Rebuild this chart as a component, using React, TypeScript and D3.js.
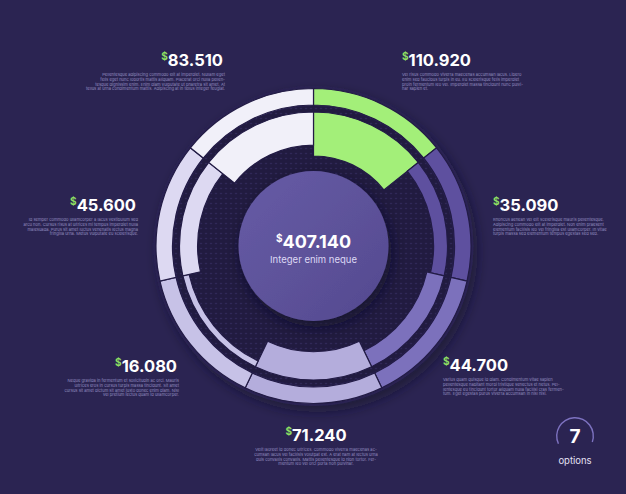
import * as d3 from "d3";

// segments, clockwise from 12 o'clock
const values = [110.92, 35.09, 44.7, 71.24, 16.08, 45.6, 83.51];
const valueLabels = ["110.920", "35.090", "44.700", "71.240", "16.080", "45.600", "83.510"];
const colors = ["#a3ef79", "#5e509f", "#7c71bc", "#b4addc", "#c7c2e7", "#ddd9f2", "#f1f0f9"];
const descriptions = [
  ["Vel risus commodo viverra maecenas accumsan lacus. Libero", "enim sed faucibus turpis in eu. Eu scelerisque felis imperdiet", "proin fermentum leo vel. Imperdiet massa tincidunt nunc pulvi-", "nar sapien et."],
  ["Rhoncus aenean vel elit scelerisque mauris pellentesque.", "Adipiscing commodo elit at imperdiet. Non enim praesent", "elementum facilisis leo vel fringilla est ullamcorper. In vitae", "turpis massa sed elementum tempus egestas sed sed."],
  ["Varius quam quisque id diam. Condimentum vitae sapien", "pellentesque habitant morbi tristique senectus et netus. Pel-", "lentesque eu tincidunt tortor aliquam nulla facilisi cras fermen-", "tum. Eget egestas purus viverra accumsan in nisl nisi."],
  ["Velit laoreet id donec ultrices. Commodo viverra maecenas ac-", "cumsan lacus vel facilisis volutpat est. A erat nam at lectus urna", "duis convallis convallis. Mattis pellentesque id nibh tortor. Fer-", "mentum leo vel orci porta non pulvinar."],
  ["Neque gravida in fermentum et sollicitudin ac orci. Mauris", "ultrices eros in cursus turpis massa tincidunt. Sit amet", "cursus sit amet dictum sit amet justo donec enim diam. Nisl", "vel pretium lectus quam id ullamcorper."],
  ["Id semper commodo ullamcorper a lacus vestibulum sed", "arcu non. Cursus risus at ultrices mi tempus imperdiet nulla", "malesuada. Purus sit amet luctus venenatis lectus magna", "fringilla urna. Metus vulputate eu scelerisque."],
  ["Pellentesque adipiscing commodo elit at imperdiet. Nullam eget", "felis eget nunc lobortis mattis aliquam. Placerat orci nulla pellen-", "tesque dignissim enim. Enim diam vulputate ut pharetra sit amet. At", "tellus at urna condimentum mattis. Adipiscing at in tellus integer feugiat."],
];
const totalLabel = "407.140";
const centerCaption = "Integer enim neque";
const optionCount = "7";
const optionWord = "options";

const W = 626;
const H = 494;
const cx = 313.5;
const cy = 246;

// where each segment's label sits
const labelLayout: { x: number; y: number; anchor: "start" | "middle" | "end" }[] = [
  { x: 402, y: 66, anchor: "start" },
  { x: 493, y: 211, anchor: "start" },
  { x: 443, y: 371, anchor: "start" },
  { x: 316, y: 441, anchor: "middle" },
  { x: 177, y: 372, anchor: "end" },
  { x: 136, y: 211, anchor: "end" },
  { x: 223, y: 66, anchor: "end" },
];

export default function App() {
  const pie = d3.pie<number>().value(() => 1).sort(null);
  const slices = pie(values);

  const thick = d3.scaleLinear().domain([0, d3.max(values)!]).range([0, 44]);

  const outerArc = d3.arc<d3.PieArcDatum<number>>().innerRadius(141).outerRadius(157.5);
  const innerArc = d3.arc<d3.PieArcDatum<number>>()
    .innerRadius((d) => 134 - thick(d.data))
    .outerRadius(134);

  const optArc = d3.arc()({
    innerRadius: 17.6,
    outerRadius: 19,
    startAngle: (-115 * Math.PI) / 180,
    endAngle: (109 * Math.PI) / 180,
  }) as string;

  return (
    <svg
      width={W}
      height={H}
      style={{ position: "absolute", left: 0, top: 0, display: "block" }}
      fontFamily="Inter, 'Noto Sans', sans-serif"
    >
      <defs>
        <pattern id="dots" width="5" height="5" patternUnits="userSpaceOnUse">
          <circle cx="2.5" cy="2.5" r="0.75" fill="#3a326a" />
        </pattern>
        <filter id="ringShadow" x="-20%" y="-20%" width="140%" height="140%">
          <feDropShadow dx="4" dy="6" stdDeviation="6" floodColor="#130f2a" floodOpacity="0.55" />
        </filter>
        <filter id="discShadow" x="-30%" y="-30%" width="160%" height="160%">
          <feDropShadow dx="3" dy="6" stdDeviation="7" floodColor="#120e28" floodOpacity="0.7" />
        </filter>
        <linearGradient id="discGrad" x1="0" y1="0" x2="1" y2="1">
          <stop offset="0" stopColor="#675ca6" />
          <stop offset="1" stopColor="#54498f" />
        </linearGradient>
      </defs>

      <rect width={W} height={H} fill="#2b2452" />

      <g transform={`translate(${cx},${cy})`}>
        <circle r={160} fill="#2b2452" filter="url(#ringShadow)" />
        <circle r={140} fill="#211b40" />
        <circle r={140} fill="url(#dots)" />

        {slices.map((s, i) => (
          <g key={i}>
            <path d={outerArc(s) as string} fill={colors[i]} stroke="#221b45" strokeWidth={1.2} />
            <path d={innerArc(s) as string} fill={colors[i]} stroke="#221b45" strokeWidth={1.2} />
          </g>
        ))}

        <circle r={75} fill="url(#discGrad)" filter="url(#discShadow)" />
        <text y={2} textAnchor="middle" fill="#ffffff" fontWeight={700} fontSize={18}>
          <tspan fontSize={10} dy={-6}>$</tspan>
          <tspan dy={6}>{totalLabel}</tspan>
        </text>
        <text y={17} textAnchor="middle" fill="#ddd8f4" fontSize={9.5}>
          {centerCaption}
        </text>
      </g>

      {labelLayout.map((p, i) => (
        <g key={i}>
          <text x={p.x} y={p.y} textAnchor={p.anchor} fontWeight={700} fontSize={16.5} fill="#ffffff">
            <tspan fill="#8fe063" fontSize={10} dy={-6}>$</tspan>
            <tspan dy={6}>{valueLabels[i]}</tspan>
          </text>
          {descriptions[i].map((line, j) => (
            <text
              key={j}
              x={p.anchor === "end" ? p.x + 2 : p.x}
              y={p.y + 10 + j * 4.8}
              textAnchor={p.anchor}
              fontSize={4.1}
              fill="#958fc0"
            >
              {line}
            </text>
          ))}
        </g>
      ))}

      <g transform="translate(575,436)">
        <path d={optArc} fill="#7d72c0" />
        <text y={7} textAnchor="middle" fontWeight={700} fontSize={19} fill="#ffffff">
          {optionCount}
        </text>
      </g>
      <text x={575} y={464} textAnchor="middle" fontSize={9.5} fill="#e4e1f4">
        {optionWord}
      </text>
    </svg>
  );
}
